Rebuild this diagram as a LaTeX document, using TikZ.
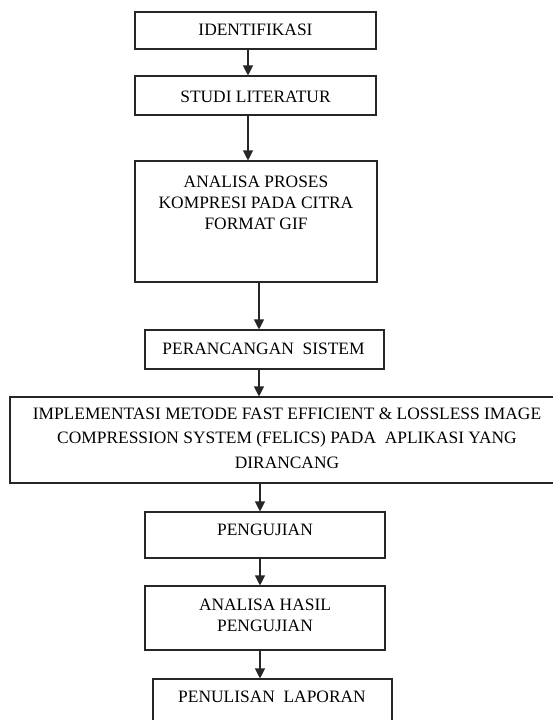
\documentclass[tikz,border=0pt]{standalone}
\usepackage{fontspec}
\setmainfont{Liberation Serif}
\usetikzlibrary{arrows.meta}
\begin{document}
\begin{tikzpicture}[x=1pt,y=-1pt,
  box/.style={draw=black!85,line width=1.1pt,rectangle,inner sep=0pt},
  txt/.style={inner sep=0pt,align=center,font=\fontsize{17.4}{21}\selectfont},
  arr/.style={draw=black!85,line width=1.1pt,-{Triangle[width=10pt,length=10pt]}}]
\clip (0,0) rectangle (553,720);
\fill[white] (0,0) rectangle (553,720);
% boxes
\node[box,minimum width=241pt,minimum height=37pt] (b1) at (255.5,30.5) {};
\node[box,minimum width=241pt,minimum height=39pt] (b2) at (255.5,95.5) {};
\node[box,minimum width=242pt,minimum height=121pt] (b3) at (256,221.5) {};
\node[box,minimum width=239pt,minimum height=39pt] (b4) at (264.5,349.5) {};
\node[box,minimum width=560pt,minimum height=86pt] (b5) at (290,440) {};
\node[box,minimum width=240pt,minimum height=46pt] (b6) at (265,535) {};
\node[box,minimum width=240pt,minimum height=64pt] (b7) at (265,618) {};
\node[box,minimum width=239pt,minimum height=61pt] (b8) at (272.5,709.5) {};
% texts
\node[txt] (t1) at (255.5,30) {IDENTIFIKASI};
\node[txt] (t2) at (255.5,97) {STUDI LITERATUR};
\node[txt] (t3) at (256,203) {ANALISA PROSES\\KOMPRESI PADA CITRA\\FORMAT GIF};
\node[txt] (t4) at (263.5,349) {PERANCANGAN\ \ SISTEM};
\node[txt,font=\fontsize{17.4}{24.5}\selectfont] (t5) at (287,438) {IMPLEMENTASI METODE FAST EFFICIENT \& LOSSLESS IMAGE\\COMPRESSION SYSTEM (FELICS) PADA\ \ APLIKASI YANG\\DIRANCANG};
\node[txt] (t6) at (265,530) {PENGUJIAN};
\node[txt] (t7) at (265,615.5) {ANALISA HASIL\\PENGUJIAN};
\node[txt] (t8) at (272,697) {PENULISAN\ \ LAPORAN};
% arrows
\draw[arr] ([xshift=-7.5pt]b1.south) -- ([xshift=-7.5pt]b2.north);
\draw[arr] ([xshift=-7.5pt]b2.south) -- ([xshift=-8pt]b3.north);
\draw[arr] ([xshift=3pt]b3.south) -- ([xshift=-5.5pt]b4.north);
\draw[arr] ([xshift=-5.5pt]b4.south) -- ([xshift=-31pt]b5.north);
\draw[arr] ([xshift=-30pt]b5.south) -- ([xshift=-5pt]b6.north);
\draw[arr] ([xshift=-5pt]b6.south) -- ([xshift=-5pt]b7.north);
\draw[arr] ([xshift=-5pt]b7.south) -- ([xshift=-12.5pt]b8.north);
\end{tikzpicture}
\end{document}
